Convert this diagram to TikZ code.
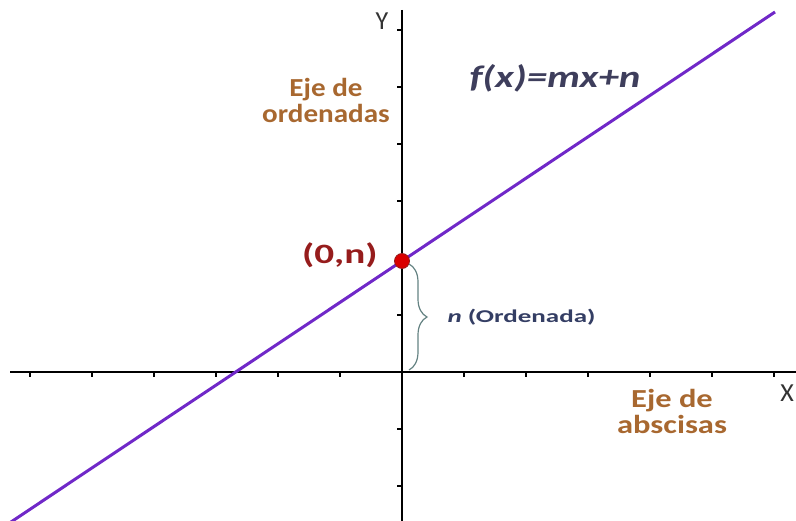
\documentclass[tikz,border=0pt]{standalone}
\usepackage{fontspec}
\usepackage{graphicx}
\setmainfont{Carlito}
\usetikzlibrary{calc,decorations.pathreplacing}
\definecolor{ejecolor}{RGB}{168,104,48}
\definecolor{funcolor}{RGB}{62,62,92}
\definecolor{ptcolor}{RGB}{150,28,28}
\definecolor{linecolor}{RGB}{112,40,200}
\definecolor{bracecolor}{RGB}{100,130,130}
\definecolor{ordcolor}{RGB}{52,62,100}
\def\xstep{62}
\def\ystep{57}
\newcommand{\wide}[2]{\scalebox{#1}[1]{#2}}
\tikzset{
   axis/.style={draw=black, line width=1.4pt},
   tick/.style={draw=black, line width=1.2pt},
   ejelabel/.style={text=ejecolor, font=\fontsize{26}{26}\selectfont\bfseries, align=center},
   axislabel/.style={text=black!80, font=\fontsize{26}{26}\selectfont, inner sep=1pt},
   recta/.style={draw=linecolor, line width=3pt}
}

\begin{document}
\begin{tikzpicture}[x=1pt, y=-1pt]
\useasboundingbox (0,0) rectangle (796,521);
% axes
\coordinate (O) at (402,372);
\coordinate (xl) at (10,372);
\coordinate (xr) at (800,372);
\coordinate (yt) at (402,10);
\coordinate (yb) at (402,525);
\draw[axis] (xl) -- (xr);
\draw[axis] (yt) -- (yb);
\foreach \k in {-6,...,6} {
    \ifnum\k=0 \else
        \draw[tick] ($(O)+(\k*\xstep,0)$) -- ++(0,5);
    \fi
}
\foreach \k in {-2,...,6} {
    \ifnum\k=0 \else
        \draw[tick] ($(O)+(0,-\k*\ystep)$) -- ++(-5,0);
    \fi
}
% the line
\coordinate (la) at (5,526);
\coordinate (lb) at (775,12);
\draw[recta] (la) -- (lb);
\node[circle, fill=red!85!black, draw=ptcolor, line width=0.8pt, inner sep=0pt, minimum size=15pt] (P) at (402,261) {};
% brace
\draw[draw=bracecolor, line width=1.2pt, decorate, decoration={brace, amplitude=18pt}] (409,264) -- (409,370) coordinate[midway] (bm);
% labels
\node[axislabel] (ylab) at (382,21) {Y};
\node[axislabel, anchor=east] (xlab) at (795,393) {X};
\node[ejelabel] (ordlab) at (326,100) {\wide{1.12}{Eje de}\\\wide{1.12}{ordenadas}};
\node[ejelabel] (abslab) at (672,411) {\wide{1.25}{Eje de}\\\wide{1.25}{abscisas}};
\node[text=funcolor, font=\fontsize{31}{31}\selectfont\bfseries\itshape] (flab) at (555,78) {\wide{1.32}{f(x)=mx+n}};
\node[text=ptcolor, font=\fontsize{28}{28}\selectfont\bfseries, anchor=east] (plab) at (381,255) {\wide{1.4}{(0,n)}};
\node[text=ordcolor, font=\fontsize{18}{18}\selectfont\bfseries, anchor=west] (nlab) at (444,317) {\wide{1.5}{\textit{n} (Ordenada)}};
\end{tikzpicture}
\end{document}
